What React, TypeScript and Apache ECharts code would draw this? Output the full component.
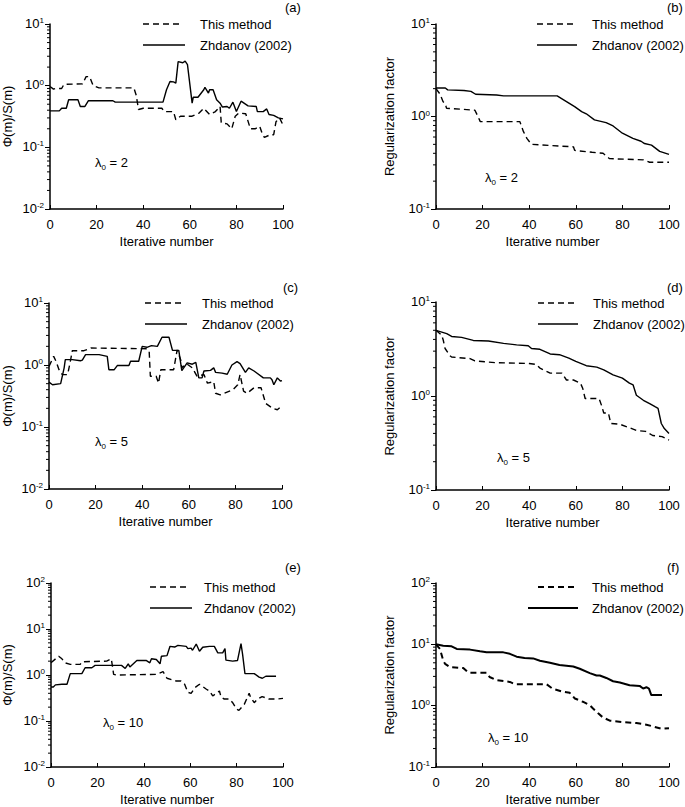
import { useEffect, useRef } from 'react';
import * as echarts from 'echarts';

const FONT = '"Liberation Sans", Arial, Helvetica, sans-serif';

// ---------- data (iteration, value) ----------
const aThis = [[0,0.97],[1.5,0.88],[2.5,0.9],[5,0.9],[6,1.05],[14,1.07],[15.5,1.4],[17,1.4],[18.5,1.0],[21,0.92],[36,0.92],[37,0.7],[38,0.41],[40,0.43],[48,0.43],[49,0.38],[53,0.38],[54,0.28],[56,0.32],[61,0.32],[64,0.36],[66,0.43],[68.5,0.34],[71,0.38],[73,0.46],[73.5,0.25],[76,0.24],[78,0.2],[79.5,0.32],[81,0.36],[84,0.35],[86,0.2],[88,0.2],[90,0.22],[91,0.17],[92,0.145],[94.5,0.16],[96,0.16],[97,0.26],[98.5,0.3],[100,0.23]];
const aZhdanov = [[0,0.39],[4,0.39],[5,0.43],[7,0.43],[8,0.59],[12,0.59],[13,0.46],[15,0.46],[16.5,0.57],[27,0.57],[28,0.54],[48.5,0.54],[50,0.86],[51.5,1.17],[53,1.15],[54,1.1],[55,2.45],[57,2.35],[58,2.5],[59,2.2],[61,0.52],[61.5,0.65],[63.5,0.65],[66,0.86],[66.5,0.94],[68,0.76],[68.5,0.86],[70,0.86],[71.5,0.59],[73,0.52],[74,0.45],[76,0.46],[77,0.43],[78.5,0.54],[80,0.38],[82,0.56],[85,0.47],[88.5,0.46],[89,0.38],[91.5,0.38],[93,0.42],[94,0.34],[96,0.33],[98,0.3],[100,0.29]];

const bThis = [[0,2.0],[1.7,1.75],[3,1.45],[4,1.37],[4.5,1.23],[16.7,1.17],[18,1.0],[19,0.88],[36,0.88],[37.5,0.69],[39,0.58],[41,0.5],[59,0.47],[59.5,0.43],[67,0.41],[71.7,0.4],[74.5,0.35],[89,0.34],[91.7,0.32],[100,0.32]];
const bZhdanov = [[0,2.03],[4,2.03],[5,1.94],[12,1.91],[15,1.87],[17,1.74],[26,1.71],[29,1.67],[52,1.67],[56,1.45],[59.5,1.28],[62.5,1.13],[64.5,1.07],[68,0.92],[73,0.86],[76,0.79],[80,0.66],[84.5,0.58],[88,0.54],[89.5,0.51],[92.5,0.49],[96,0.42],[100,0.39]];

const cThis = [[0,0.95],[2,1.38],[3,1.15],[4.3,0.84],[5.7,0.7],[8,0.7],[9.3,1.22],[10,1.7],[15,1.7],[18,1.88],[42,1.83],[43,1.65],[43.5,0.66],[46,0.66],[47,0.51],[48,0.84],[53.5,0.84],[55,1.75],[56.5,1.22],[57,0.9],[59,1.05],[61.5,0.9],[63.5,0.66],[66.5,0.7],[68,0.51],[70.7,0.54],[71.5,0.35],[73.5,0.33],[79,0.4],[81,0.48],[82,0.7],[83.5,0.38],[85,0.35],[88,0.43],[91,0.43],[93,0.24],[96,0.2],[98,0.19],[100,0.22]];
const cZhdanov = [[0,0.53],[1.5,0.48],[5,0.5],[6.5,0.9],[7,1.22],[10,1.22],[13.5,1.17],[14.3,1.2],[15.7,1.47],[21.5,1.47],[25,1.38],[25.7,0.84],[28,0.84],[29.3,0.98],[34.3,0.98],[35,1.15],[38.5,1.15],[40,2.0],[42,1.93],[44,2.05],[46.5,2.0],[48.5,2.8],[51.5,2.8],[53,1.72],[55.7,1.72],[57,0.81],[59.3,1.08],[61.5,1.03],[63,1.1],[64.3,0.62],[65.7,0.62],[66.5,0.8],[69.3,0.82],[70.7,0.9],[71.5,0.76],[74.3,0.74],[76.5,0.71],[78.5,1.0],[80.7,1.13],[82,1.05],[84.3,0.76],[85.7,0.9],[88,0.8],[92,0.62],[95,0.62],[95.7,0.58],[96.5,0.48],[98,0.62],[99.3,0.55],[100,0.56]];

const dThis = [[0,5.0],[2.4,4.45],[3.1,3.94],[3.9,3.2],[6,2.68],[6.7,2.6],[14.6,2.5],[16.7,2.36],[26,2.26],[40,2.22],[43,2.17],[44.6,1.98],[49,1.75],[54,1.75],[56,1.48],[59,1.48],[62,1.37],[63,1.2],[64,0.94],[70,0.94],[71,0.8],[72,0.66],[74,0.66],[75,0.51],[79,0.5],[83,0.46],[86,0.43],[90,0.42],[93,0.38],[97,0.37],[100,0.34]];
const dZhdanov = [[0,5.0],[4.6,4.6],[6.7,4.3],[11,4.2],[16,3.9],[22.5,3.85],[29,3.63],[34.6,3.5],[39.6,3.43],[41,3.2],[44.6,3.14],[49,2.8],[53,2.75],[57,2.53],[60,2.33],[64.5,2.1],[69,2.03],[72,1.9],[76,1.68],[80,1.55],[83,1.37],[84.6,1.31],[86,1.02],[89,0.9],[91.7,0.83],[94,0.77],[95.3,0.74],[96.7,0.51],[98,0.45],[100,0.4]];

const eThis = [[0,1.84],[2,2.25],[3.3,2.56],[4.7,2.25],[6,1.84],[8.3,1.7],[12.6,1.7],[13.3,1.94],[24,2.0],[26,2.25],[27,1.03],[28.3,1.0],[45.4,1.03],[48.3,1.18],[50,0.85],[54,0.74],[56,0.74],[57.6,0.63],[59,0.42],[60.4,0.4],[62,0.53],[64,0.63],[67,0.49],[68.3,0.45],[69.7,0.35],[72.6,0.45],[73.3,0.33],[74.7,0.3],[77,0.3],[78.3,0.25],[80,0.18],[81,0.17],[83.3,0.23],[84.7,0.33],[85.4,0.4],[86,0.33],[87.6,0.25],[89,0.3],[91,0.34],[94,0.3],[97,0.3],[100,0.31]];
const eZhdanov = [[0,0.55],[1,0.55],[1.9,0.61],[4.7,0.63],[6.9,0.63],[8.3,1.07],[13.3,1.07],[14.7,1.44],[17.6,1.44],[19,1.62],[30.4,1.62],[32,1.39],[33.3,1.75],[34,1.49],[37,2.07],[41,2.07],[42.6,1.84],[43.3,2.25],[45.4,2.17],[47,1.75],[47.6,2.56],[50,2.64],[51.3,4.2],[53.3,4.06],[54.7,4.4],[58.3,4.2],[59,3.75],[60.4,3.85],[61,3.45],[62.6,4.7],[64,3.28],[65.4,4.0],[68.3,4.2],[70.4,4.2],[71.9,3.02],[74,3.02],[75,3.75],[75.4,2.1],[78.3,2.0],[80.4,2.07],[81.9,4.8],[82.6,2.78],[83.6,1.07],[87.6,1.07],[89.7,0.9],[91.1,0.85],[92.6,0.94],[97,0.94]];

const fThis = [[0,10],[1.7,8.4],[3.1,5.45],[3.9,4.8],[6,4.26],[11.7,4.1],[13.9,3.45],[21.7,3.45],[23,2.93],[26,2.6],[31.7,2.44],[33.9,2.24],[47.4,2.24],[50,1.9],[54.6,1.68],[57.4,1.62],[59.6,1.31],[63,1.16],[66,1.02],[67.4,0.9],[69.6,0.75],[71.7,0.64],[74.6,0.57],[80.3,0.54],[86,0.52],[90.3,0.49],[93.9,0.45],[96.7,0.42],[100,0.43]];
const fZhdanov = [[0,10],[3.1,9.5],[6.7,9.3],[8.9,8.4],[14.6,8.2],[18.9,7.7],[21.7,7.4],[28.9,7.4],[31.7,7.0],[34.6,6.3],[38,6.0],[41.7,5.9],[44.6,5.4],[48.9,5.0],[53,4.6],[58.9,4.36],[61.7,4.0],[66,3.4],[68.9,3.1],[70.3,3.1],[73.1,2.83],[76,2.5],[78.9,2.38],[83.1,2.15],[87.4,2.1],[88.9,1.9],[90.3,2.0],[91.4,1.9],[92.4,1.49],[97,1.49]];

const panelLetters = ['(a)', '(b)', '(c)', '(d)', '(e)', '(f)'];
const lambdaValues = ['2', '2', '5', '5', '10', '10'];
const yNames = ['Φ(m)/S(m)', 'Regularization factor', 'Φ(m)/S(m)', 'Regularization factor', 'Φ(m)/S(m)', 'Regularization factor'];
const yRanges = [[0.01, 10], [0.1, 10], [0.01, 10], [0.1, 10], [0.01, 100], [0.1, 100]];
const legendNames = ['This method', 'Zhdanov (2002)'];
const xName = 'Iterative number';

// ---------- layout ----------
const layout = [
  { grid: { left: 50, top: 24, width: 233, height: 185 }, nameGap: 36, dash: [143, 180, 24], solid: [143, 185, 45], textX: 200, letter: [285, 7], lam: [95, 163], lw: 1.4 },
  { grid: { left: 436, top: 24, width: 233, height: 185 }, nameGap: 40, dash: [537, 573, 24], solid: [537, 577, 45], textX: 592, letter: [667, 7], lam: [485, 178], lw: 1.4 },
  { grid: { left: 49, top: 303, width: 233, height: 186 }, nameGap: 35, dash: [145, 182, 303], solid: [145, 187, 324], textX: 202, letter: [283, 287], lam: [95, 442], lw: 1.4 },
  { grid: { left: 436, top: 302, width: 233, height: 188 }, nameGap: 40, dash: [538, 575, 303], solid: [538, 578, 324], textX: 593, letter: [667, 287], lam: [497, 458], lw: 1.4 },
  { grid: { left: 51, top: 583, width: 232, height: 186 }, nameGap: 37, dash: [150, 187, 587], solid: [150, 192, 608], textX: 204, letter: [285, 567], lam: [103, 723], lw: 1.4 },
  { grid: { left: 436, top: 583, width: 233, height: 186 }, nameGap: 40, dash: [538, 575, 587], solid: [528, 578, 608], textX: 592, letter: [667, 567], lam: [488, 738], lw: 2 },
];

const seriesData = [
  [aThis, aZhdanov], [bThis, bZhdanov], [cThis, cZhdanov],
  [dThis, dZhdanov], [eThis, eZhdanov], [fThis, fZhdanov],
];

function minorTicks(min: number, max: number) {
  const out: number[] = [];
  const k0 = Math.round(Math.log10(min));
  const k1 = Math.round(Math.log10(max));
  for (let k = k0; k < k1; k++) {
    for (let m = 2; m <= 9; m++) out.push(m * Math.pow(10, k));
  }
  return out;
}

function buildOption() {
  const grids: any[] = [];
  const xAxes: any[] = [];
  const yAxes: any[] = [];
  const series: any[] = [];
  const graphics: any[] = [];
  const dash = [6, 4];

  layout.forEach((L, i) => {
    grids.push({ ...L.grid, containLabel: false });
    xAxes.push({
      type: 'value', gridIndex: i, min: 0, max: 100, interval: 20,
      name: xName, nameLocation: 'middle', nameGap: 26,
      nameTextStyle: { fontSize: 13, color: '#000', fontFamily: FONT },
      axisLine: { show: true, onZero: false, lineStyle: { color: '#000', width: 1.5 } },
      axisTick: { show: true, inside: true, length: 4, lineStyle: { color: '#000', width: 1 } },
      axisLabel: { margin: 9, fontSize: 13, color: '#000', fontFamily: FONT },
      splitLine: { show: false },
    });
    yAxes.push({
      type: 'log', logBase: 10, gridIndex: i, min: yRanges[i][0], max: yRanges[i][1],
      name: yNames[i], nameLocation: 'middle', nameGap: L.nameGap,
      nameTextStyle: { fontSize: 13, color: '#000', fontFamily: FONT },
      axisLine: { show: true, onZero: false, lineStyle: { color: '#000', width: 1.5 } },
      axisTick: { show: true, inside: false, length: 5, lineStyle: { color: '#000', width: 1 } },
      axisLabel: {
        margin: 6,
        formatter: (v: number) => `{b|10}{s|${Math.round(Math.log10(v))}}`,
        rich: {
          b: { fontSize: 13, fontFamily: FONT, color: '#000', lineHeight: 15, verticalAlign: 'top' },
          s: { fontSize: 8, fontFamily: FONT, color: '#000', lineHeight: 9, verticalAlign: 'top' },
        },
      },
      splitLine: { show: false },
    });
    series.push({
      type: 'line', name: legendNames[0], xAxisIndex: i, yAxisIndex: i, data: seriesData[i][0],
      symbol: 'none', showSymbol: false, silent: true,
      lineStyle: { color: '#000', width: L.lw, type: dash },
    });
    series.push({
      type: 'line', name: legendNames[1], xAxisIndex: i, yAxisIndex: i, data: seriesData[i][1],
      symbol: 'none', showSymbol: false, silent: true,
      lineStyle: { color: '#000', width: L.lw, type: 'solid' },
    });
    series.push({
      type: 'custom', xAxisIndex: i, yAxisIndex: i, silent: true, clip: false, z: 5,
      data: minorTicks(yRanges[i][0], yRanges[i][1]).map((v) => [0, v]),
      renderItem: (_p: any, api: any) => {
        const pt = api.coord([api.value(0), api.value(1)]);
        return {
          type: 'line',
          shape: { x1: pt[0] - 3, y1: pt[1], x2: pt[0], y2: pt[1] },
          style: { stroke: '#000', lineWidth: 1 },
        };
      },
    });

    // legend
    graphics.push({ type: 'line', shape: { x1: L.dash[0], y1: L.dash[2], x2: L.dash[1], y2: L.dash[2] }, style: { stroke: '#000', lineWidth: L.lw, lineDash: dash } });
    graphics.push({ type: 'line', shape: { x1: L.solid[0], y1: L.solid[2], x2: L.solid[1], y2: L.solid[2] }, style: { stroke: '#000', lineWidth: L.lw } });
    graphics.push({ type: 'text', x: L.textX, y: L.dash[2], style: { text: legendNames[0], fontSize: 13, fontFamily: FONT, fill: '#000', verticalAlign: 'middle', align: 'left' } });
    graphics.push({ type: 'text', x: L.textX, y: L.solid[2], style: { text: legendNames[1], fontSize: 13, fontFamily: FONT, fill: '#000', verticalAlign: 'middle', align: 'left' } });
    // panel letter
    graphics.push({ type: 'text', x: L.letter[0], y: L.letter[1], style: { text: panelLetters[i], fontSize: 13, fontFamily: FONT, fill: '#000', verticalAlign: 'middle', align: 'left' } });
    // lambda
    graphics.push({
      type: 'text', x: L.lam[0], y: L.lam[1],
      style: {
        text: `{a|λ}{s|0}{a| = ${lambdaValues[i]}}`,
        verticalAlign: 'middle', align: 'left',
        rich: {
          a: { fontSize: 13, fontFamily: FONT, fill: '#000', lineHeight: 14, verticalAlign: 'top' },
          s: { fontSize: 8, fontFamily: FONT, fill: '#000', lineHeight: 9, verticalAlign: 'top', padding: [7, 0, 0, 0] },
        },
      },
    });
  });

  return {
    animation: false,
    backgroundColor: '#fff',
    grid: grids,
    xAxis: xAxes,
    yAxis: yAxes,
    series,
    graphic: { elements: graphics },
  };
}

export default function App() {
  const ref = useRef<HTMLDivElement>(null);
  useEffect(() => {
    const chart = echarts.init(ref.current!, null, { renderer: 'svg' });
    chart.setOption(buildOption() as any);
    return () => chart.dispose();
  }, []);
  return <div ref={ref} style={{ position: 'absolute', left: 0, top: 0, width: 685, height: 807 }} />;
}
